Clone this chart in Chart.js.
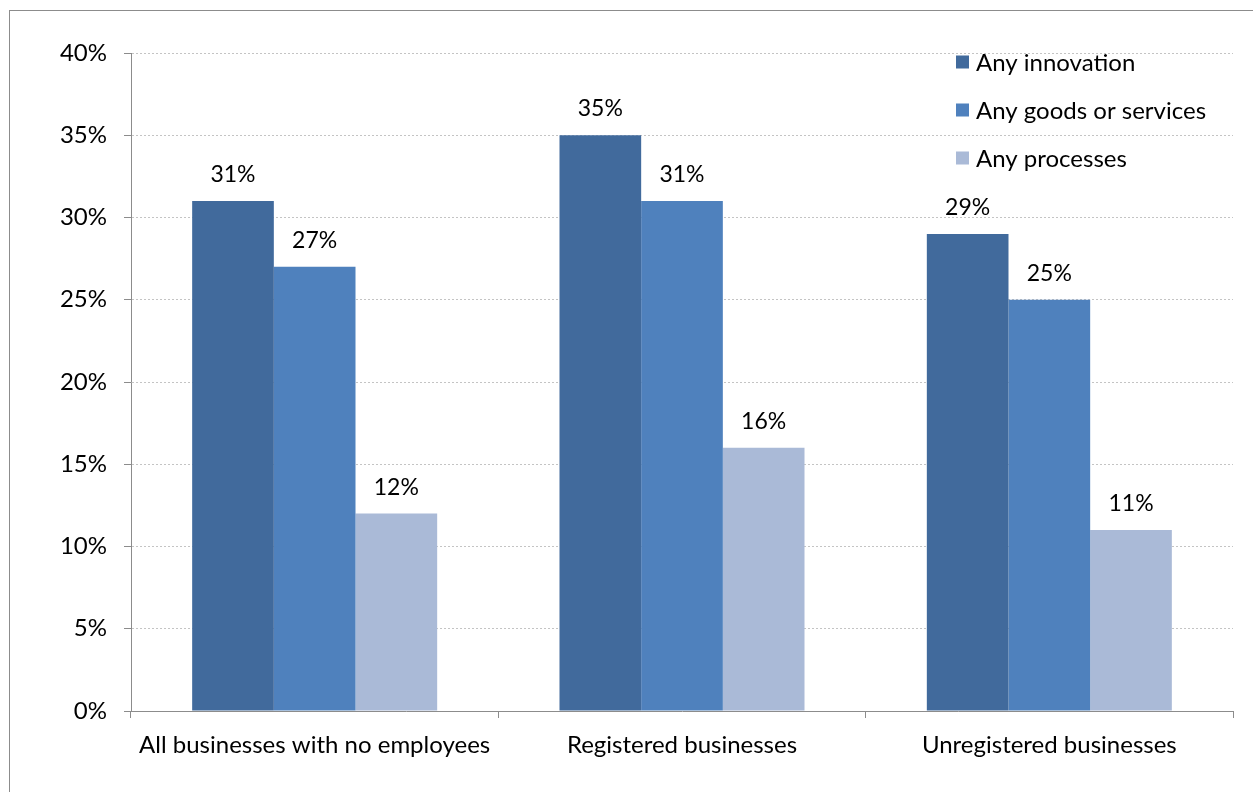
<!DOCTYPE html>
<html>
<head>
<meta charset="utf-8">
<script src="https://cdn.jsdelivr.net/npm/chart.js@4"></script>
<style>
    html, body { margin: 0; padding: 0; background: #fff; overflow: hidden; }
    #wrap { position: relative; width: 1253px; height: 792px; }
    #frame { position: absolute; left: 9px; top: 10px; width: 1300px; height: 900px; border: 1px solid #8c8c8c; }
    canvas { position: absolute; left: 0; top: 0; }
</style>
</head>
<body>
<div id="wrap">
    <div id="frame"></div>
    <canvas id="myChart" width="1253" height="792"></canvas>
</div>
<script>
const categories = ['All businesses with no employees', 'Registered businesses', 'Unregistered businesses'];
const series_names = ['Any innovation', 'Any goods or services', 'Any processes'];
const innovation = [31, 35, 29];
const goods_services = [27, 31, 25];
const processes = [12, 16, 11];
const y_ticks = [0, 5, 10, 15, 20, 25, 30, 35, 40];

const colors = ['#416A9C', '#4F81BD', '#AABAD7'];
const font_family = 'Lato, "Open Sans", sans-serif';

// value labels above each bar
const barLabels = {
    id: 'barLabels',
    afterDatasetsDraw(chart) {
        const ctx = chart.ctx;
        ctx.save();
        ctx.font = '23px ' + font_family;
        ctx.fillStyle = '#000';
        ctx.textAlign = 'center';
        ctx.textBaseline = 'alphabetic';
        chart.data.datasets.forEach(function (ds, i) {
            chart.getDatasetMeta(i).data.forEach(function (bar, j) {
                ctx.fillText(ds.data[j] + '%', bar.x, bar.y - 19);
            });
        });
        ctx.restore();
    }
};

// legend in the top right of the plot
const sideLegend = {
    id: 'sideLegend',
    afterDraw(chart) {
        const ctx = chart.ctx;
        ctx.save();
        ctx.font = '24px ' + font_family;
        ctx.textBaseline = 'middle';
        chart.data.datasets.forEach(function (ds, i) {
            let y = chart.chartArea.top + 9 + i * 48;
            ctx.fillStyle = ds.backgroundColor;
            ctx.fillRect(956, y - 6.5, 13, 13);
            ctx.fillStyle = '#000';
            ctx.fillText(ds.label, 976, y + 1);
        });
        ctx.restore();
    }
};

new Chart('myChart', {
    type: 'bar',
    data: {
        labels: categories,
        datasets: [
            { label: series_names[0], data: innovation, backgroundColor: colors[0] },
            { label: series_names[1], data: goods_services, backgroundColor: colors[1] },
            { label: series_names[2], data: processes, backgroundColor: colors[2] }
        ]
    },
    options: {
        responsive: false,
        animation: false,
        datasets: {
            bar: { categoryPercentage: 0.667, barPercentage: 1.0, borderWidth: 0 }
        },
        layout: { padding: { top: 53, right: 20, left: 0, bottom: 0 } },
        scales: {
            x: {
                grid: {
                    offset: true,
                    drawOnChartArea: false,
                    tickLength: 7,
                    tickColor: '#8c8c8c'
                },
                border: { color: '#8c8c8c', width: 1 },
                ticks: {
                    color: '#000',
                    padding: 13,
                    font: { family: font_family, size: 24 }
                },
                afterFit: function (scale) { scale.height = 81; }
            },
            y: {
                min: 0,
                max: 40,
                afterBuildTicks: function (scale) {
                    scale.ticks = y_ticks.map(function (v) { return { value: v }; });
                },
                grid: {
                    color: function (c) { return c.tick && c.tick.value === 0 ? 'rgba(0,0,0,0)' : '#c4c4c4'; },
                    tickColor: '#8c8c8c',
                    tickLength: 7,
                    lineWidth: 1
                },
                border: { color: '#8c8c8c', width: 1, dash: [2, 2] },
                ticks: {
                    color: '#000',
                    padding: 17,
                    font: { family: font_family, size: 24 },
                    callback: function (v) { return v + '%'; }
                },
                afterFit: function (scale) { scale.width = 131; }
            }
        },
        plugins: {
            legend: { display: false },
            tooltip: { enabled: false }
        }
    },
    plugins: [barLabels, sideLegend]
});
</script>
</body>
</html>
